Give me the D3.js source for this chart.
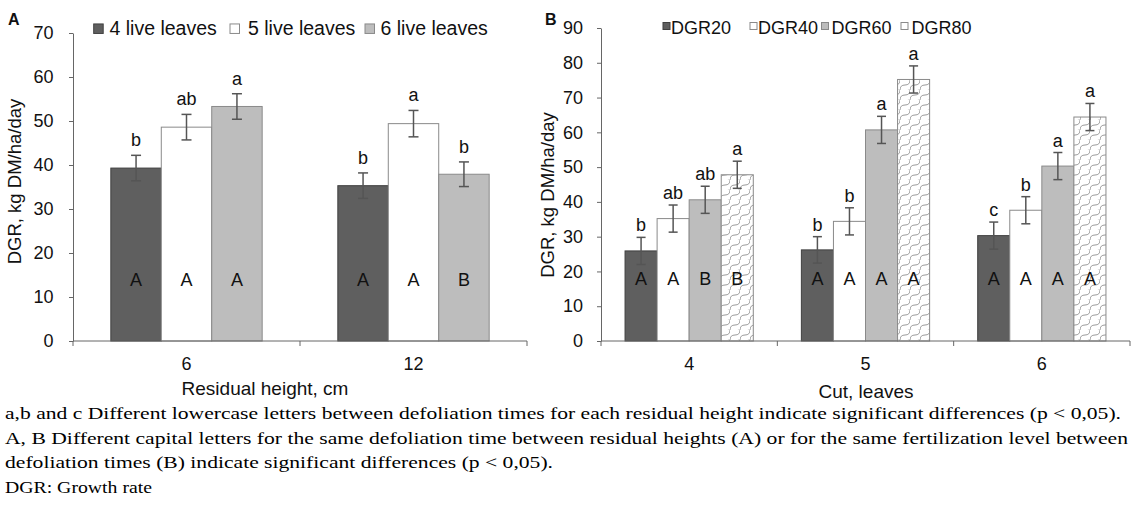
<!DOCTYPE html>
<html><head><meta charset="utf-8">
<script src="https://cdn.jsdelivr.net/npm/d3@7/dist/d3.min.js"></script>
<style>
body{margin:0;background:#fff;}
svg{display:block;}
text{font-family:"Liberation Sans",Arial,sans-serif;fill:#111;}
.foot{font-family:"Liberation Serif","Times New Roman",serif;fill:#000;}
</style></head>
<body>
<svg id="chart" width="1136" height="505"></svg>
<script>
// ---------- Panel A data ----------
const catsA = ["6", "12"];
const seriesA = ["4 live leaves", "5 live leaves", "6 live leaves"];
const valsA4 = [39.3, 35.3];
const valsA5 = [48.6, 49.4];
const valsA6 = [53.3, 37.9];
const errA4 = [2.9, 2.9];
const errA5 = [2.9, 3.0];
const errA6 = [2.9, 2.8];
const lowA4 = ["b", "b"];
const lowA5 = ["ab", "a"];
const lowA6 = ["a", "b"];
const capA4 = ["A", "A"];
const capA5 = ["A", "A"];
const capA6 = ["A", "B"];
const ticksA = [0, 10, 20, 30, 40, 50, 60, 70];

// ---------- Panel B data ----------
const catsB = ["4", "5", "6"];
const seriesB = ["DGR20", "DGR40", "DGR60", "DGR80"];
const valsB20 = [25.9, 26.2, 30.3];
const valsB40 = [35.2, 34.4, 37.6];
const valsB60 = [40.6, 60.7, 50.3];
const valsB80 = [47.8, 75.2, 64.4];
const errB20 = [3.9, 3.8, 3.9];
const errB40 = [3.9, 3.9, 3.9];
const errB60 = [3.9, 3.9, 3.9];
const errB80 = [3.9, 3.9, 3.9];
const lowB20 = ["b", "b", "c"];
const lowB40 = ["ab", "b", "b"];
const lowB60 = ["ab", "a", "a"];
const lowB80 = ["a", "a", "a"];
const capB20 = ["A", "A", "A"];
const capB40 = ["A", "A", "A"];
const capB60 = ["B", "A", "A"];
const capB80 = ["B", "A", "A"];
const ticksB = [0, 10, 20, 30, 40, 50, 60, 70, 80, 90];

const footnotes = [
  "a,b and c Different lowercase letters between defoliation times for each residual height indicate significant differences (p < 0,05).",
  "A, B Different capital letters for the same defoliation time between residual heights (A) or for the same fertilization level between",
  "defoliation times (B) indicate significant differences (p < 0,05).",
  "DGR: Growth rate"
];

const svg = d3.select("#chart");
const defs = svg.append("defs");
const pat = defs.append("pattern").attr("id","wave").attr("patternUnits","userSpaceOnUse")
  .attr("width",10).attr("height",10);
pat.append("rect").attr("width",10).attr("height",10).attr("fill","#fff");
pat.append("path").attr("d","M0,10 Q0,5 5,5 T10,0 M-5,5 Q-5,0 0,0 M5,15 Q5,10 10,10")
  .attr("fill","none").attr("stroke","#9a9a9a").attr("stroke-width",1);

const styles = [
  {fill:"#5f5f5f", stroke:"#404040"},
  {fill:"#ffffff", stroke:"#8a8a8a"},
  {fill:"#bdbdbd", stroke:"#8a8a8a"},
  {fill:"url(#wave)", stroke:"#8a8a8a"}
];
const axisColor = "#666";

function panel(cfg){
  const g = svg.append("g");
  const x0 = d3.scaleBand().domain(cfg.cats).range([cfg.x0, cfg.x1]).padding(0);
  const x1 = d3.scaleBand().domain(cfg.series).range([0, x0.bandwidth()]).paddingInner(0).paddingOuter(0.75);
  const y = d3.scaleLinear().domain([0, cfg.max]).range([cfg.y0, cfg.y1]);

  const ya = g.append("g").attr("transform",`translate(${cfg.x0},0)`)
    .call(d3.axisLeft(y).tickValues(cfg.ticks).tickSize(4).tickSizeOuter(0).tickPadding(cfg.tickPad));
  ya.select(".domain").attr("stroke",axisColor);
  ya.selectAll(".tick line").attr("stroke",axisColor);
  ya.selectAll(".tick text").attr("font-size",18).attr("font-family","Liberation Sans, Arial, sans-serif").attr("fill","#111");

  cfg.series.forEach((s,si)=>{
    const vals = cfg.vals[si], errs = cfg.errs[si];
    const st = styles[si];
    const gg = g.append("g");
    gg.selectAll("rect").data(cfg.cats).join("rect")
      .attr("x", c=>x0(c)+x1(s)).attr("width", x1.bandwidth())
      .attr("y", (c,i)=>y(vals[i])).attr("height",(c,i)=>y(0)-y(vals[i]))
      .attr("fill", st.fill).attr("stroke", st.stroke).attr("stroke-width",1);
    cfg.cats.forEach((c,i)=>{
      const cx = x0(c)+x1(s)+x1.bandwidth()/2;
      const t = y(vals[i]+errs[i]), b = y(vals[i]-errs[i]);
      gg.append("line").attr("x1",cx).attr("x2",cx).attr("y1",t).attr("y2",b).attr("stroke","#555").attr("stroke-width",1.5);
      gg.append("line").attr("x1",cx-cfg.cap).attr("x2",cx+cfg.cap).attr("y1",t).attr("y2",t).attr("stroke","#555").attr("stroke-width",1.5);
      gg.append("line").attr("x1",cx-cfg.cap).attr("x2",cx+cfg.cap).attr("y1",b).attr("y2",b).attr("stroke","#555").attr("stroke-width",1.5);
      gg.append("text").attr("x",cx).attr("y",t-cfg.lowOff).attr("text-anchor","middle")
        .attr("font-size",18).text(cfg.lows[si][i]);
      gg.append("text").attr("x",cx).attr("y",y(cfg.capVal)+6.5).attr("text-anchor","middle")
        .attr("font-size",18).text(cfg.caps[si][i]);
    });
  });

  g.append("line").attr("x1",cfg.x0).attr("x2",cfg.x1).attr("y1",cfg.y0).attr("y2",cfg.y0).attr("stroke",axisColor);
  const bounds = cfg.cats.map(c=>x0(c)).concat([cfg.x1]);
  g.selectAll(".xt").data(bounds).join("line").attr("class","xt")
    .attr("x1",d=>d).attr("x2",d=>d).attr("y1",cfg.y0).attr("y2",cfg.y0+5).attr("stroke",axisColor);
  g.selectAll(".xl").data(cfg.cats).join("text").attr("class","xl")
    .attr("x",c=>x0(c)+x0.bandwidth()/2).attr("y",cfg.y0+28.5).attr("text-anchor","middle")
    .attr("font-size",18).text(c=>c);
  g.append("text").attr("x",cfg.xtX).attr("y",cfg.xtY).attr("text-anchor","middle").attr("font-size",19).text(cfg.xTitle);
  g.append("text").attr("transform",`translate(${cfg.ytX},${cfg.ytY}) rotate(-90)`).attr("text-anchor","middle")
    .attr("font-size",18.5).text("DGR, kg DM/ha/day");
  g.append("text").attr("x",cfg.labX).attr("y",25).attr("font-size",16).attr("font-weight","bold").text(cfg.label);

  cfg.series.forEach((s,si)=>{
    const st = styles[si];
    g.append("rect").attr("x",cfg.legPos[si]).attr("y",cfg.legY-cfg.sw/2).attr("width",cfg.sw).attr("height",cfg.sw)
      .attr("fill", si===3 ? "#fff" : st.fill).attr("stroke", st.stroke);
    g.append("text").attr("x",cfg.legText[si]).attr("y",cfg.legBase).attr("font-size",cfg.legFont).text(s);
  });
}

panel({
  cats:catsA, series:seriesA, vals:[valsA4,valsA5,valsA6], errs:[errA4,errA5,errA6],
  lows:[lowA4,lowA5,lowA6], caps:[capA4,capA5,capA6], ticks:ticksA, max:70,
  x0:73, x1:527, y0:341, y1:33, cap:5, lowOff:9, capVal:13.9, tickPad:15.5,
  xTitle:"Residual height, cm", xtX:265, xtY:394.5, ytX:21, ytY:181.5, label:"A", labX:8,
  legPos:[93.7,230,365], legText:[109.5,248,380.5], legY:28.7, legBase:35, sw:9.5, legFont:19.5
});
panel({
  cats:catsB, series:seriesB, vals:[valsB20,valsB40,valsB60,valsB80], errs:[errB20,errB40,errB60,errB80],
  lows:[lowB20,lowB40,lowB60,lowB80], caps:[capB20,capB40,capB60,capB80], ticks:ticksB, max:90,
  x0:601, x1:1130, y0:341, y1:28, cap:4.5, lowOff:6, capVal:18.1, tickPad:14,
  xTitle:"Cut, leaves", xtX:866, xtY:398, ytX:554, ytY:195, label:"B", labX:545,
  legPos:[663,750,821.5,901], legText:[671,758,831.5,911.5], legY:26, legBase:33.5, sw:7, legFont:18
});

const fw = [1116, 1123, 548, 147];
const fy = [419.3, 443.5, 468, 493];
footnotes.forEach((t,i)=>{
  svg.append("text").attr("class","foot").attr("x",5).attr("y",fy[i]).attr("font-size",17)
    .attr("textLength",fw[i]).attr("lengthAdjust","spacingAndGlyphs").text(t);
});
</script>
</body></html>
